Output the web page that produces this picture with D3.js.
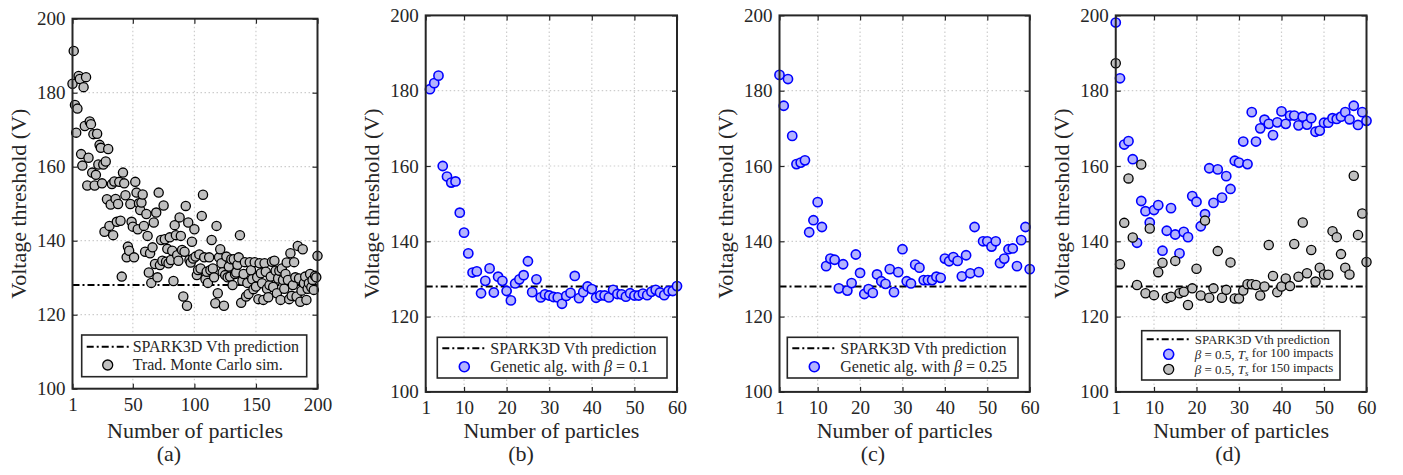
<!DOCTYPE html>
<html>
<head>
<meta charset="utf-8">
<script src="https://cdn.jsdelivr.net/npm/d3@7"></script>
<style>
  body { margin: 0; background: #fff; }
  svg text { font-family: "Liberation Serif", "DejaVu Serif", serif; fill: #262626; }
</style>
</head>
<body>
<svg id="fig" width="1403" height="475"></svg>
<script>
// values
const sparkVth = 128;
const yTicks = [100, 120, 140, 160, 180, 200];
const xTicksA = [1, 50, 100, 150, 200];
const xTicksGA = [1, 10, 20, 30, 40, 50, 60];

// (a) traditional Monte Carlo, particles 1..200
const monteCarlo = [
  182.4, 191.3, 176.7, 169.2, 175.7, 184.5, 183.7, 163.4, 160.3, 181.5,
  171.0, 184.2, 154.9, 162.4, 172.2, 171.5, 158.4, 168.8, 154.9, 157.8,
  168.9, 160.6, 165.9, 165.1, 155.5, 160.6, 142.4, 161.4, 151.2, 164.8,
  144.0, 149.8, 155.3, 141.5, 156.0, 151.3, 145.1, 149.9, 155.9, 145.4,
  130.3, 158.4, 155.5, 152.3, 135.5, 138.4, 137.3, 149.9, 145.1, 143.8,
  135.5, 155.9, 153.0, 143.1, 150.1, 148.3, 150.3, 152.5, 144.0, 137.0,
  147.2, 141.3, 131.4, 136.6, 128.6, 138.2, 144.9, 133.7, 147.6, 130.1,
  153.0, 133.4, 140.2, 134.6, 149.5, 140.4, 134.3, 137.8, 133.9, 140.9,
  134.8, 137.3, 129.1, 144.2, 141.5, 136.1, 134.6, 146.3, 141.3, 137.5,
  124.9, 137.0, 149.4, 122.4, 144.9, 134.8, 134.1, 139.7, 135.2, 143.1,
  135.7, 130.7, 132.1, 136.3, 132.5, 146.7, 152.4, 135.5, 129.6, 131.6,
  128.6, 135.5, 132.1, 140.2, 132.5, 130.1, 123.1, 144.0, 125.8, 135.5,
  137.7, 133.9, 131.5, 122.4, 130.7, 135.7, 130.1, 133.0, 130.3, 135.0,
  128.0, 135.0, 131.0, 131.4, 133.5, 135.5, 141.5, 123.2, 129.2, 131.0,
  134.2, 124.9, 128.6, 125.6, 134.2, 132.0, 129.6, 126.9, 134.2, 127.6,
  130.1, 124.2, 133.9, 131.2, 128.5, 124.0, 133.9, 131.6, 127.0, 124.7,
  128.0, 130.3, 134.3, 127.5, 134.6, 131.9, 125.8, 129.8, 131.9, 124.0,
  132.5, 129.4, 127.0, 131.0, 134.1, 129.4, 124.2, 136.6, 125.1, 128.0,
  134.2, 130.1, 124.9, 138.6, 129.8, 123.5, 126.5, 137.7, 128.5, 130.3,
  124.0, 127.0, 128.5, 131.0, 127.4, 129.4, 126.7, 130.5, 130.1, 135.9
];

// (b) genetic algorithm beta = 0.1, particles 2..60
const gaBeta01Start = 2;
const gaBeta01 = [
  180.4, 182.0, 184.0, 160.0, 157.2, 155.6, 155.9, 147.6, 142.3, 136.8,
  131.7, 132.0, 126.2, 129.5, 132.8, 126.4, 130.6, 129.5, 126.8, 124.3,
  128.8, 129.9, 131.0, 134.7, 126.5, 129.9, 125.1, 125.9, 125.6, 125.2,
  125.1, 123.4, 125.5, 126.3, 130.8, 124.9, 126.5, 128.0, 127.3, 125.0,
  125.6, 125.6, 125.1, 127.1, 126.0, 125.9, 125.3, 126.2, 125.6, 125.6,
  126.1, 125.7, 126.6, 127.1, 126.4, 125.7, 126.8, 126.8, 128.1
];

// (c) genetic algorithm beta = 0.25, particles 1..60
const gaBeta025 = [
  184.2, 176.0, 183.1, 168.0, 160.5, 160.9, 161.5, 142.4, 145.6, 150.4,
  143.8, 133.4, 135.4, 135.1, 127.5, 133.9, 126.9, 128.9, 136.5, 131.6,
  126.0, 127.3, 126.3, 131.2, 129.4, 128.7, 132.6, 126.5, 131.8, 137.9,
  129.4, 128.8, 133.8, 133.0, 129.7, 129.7, 129.7, 130.6, 130.3, 135.4,
  134.7, 135.8, 134.8, 130.7, 136.3, 131.5, 143.8, 131.8, 140.0, 140.0,
  138.6, 140.0, 134.2, 135.4, 137.9, 138.1, 133.4, 140.3, 143.8, 132.6
];

// (d) beta = 0.5, Ts for 100 and 150 impacts, particles 1..60
const ts100 = [
  198.1, 183.3, 165.7, 166.6, 161.8, 139.6, 150.7, 148.0, 145.0, 148.3,
  149.6, 137.5, 142.8, 148.8, 141.8, 136.8, 142.5, 141.1, 152.0, 150.5,
  144.0, 147.2, 159.4, 150.2, 159.1, 151.6, 157.3, 153.9, 161.4, 160.9,
  166.5, 160.5, 174.3, 166.5, 170.0, 172.3, 171.2, 168.2, 171.6, 174.5,
  171.2, 173.4, 173.4, 170.8, 173.1, 171.0, 172.7, 169.1, 169.4, 171.5,
  171.5, 172.7, 172.5, 173.1, 174.3, 172.4, 176.0, 170.9, 174.3, 172.0
];
const ts150 = [
  187.3, 133.9, 144.9, 156.7, 141.0, 128.4, 160.4, 126.2, 143.4, 125.7,
  131.8, 134.3, 124.9, 125.3, 134.8, 126.2, 126.6, 123.1, 127.5, 132.7,
  125.6, 145.5, 125.0, 127.5, 137.4, 125.0, 127.1, 134.4, 124.8, 124.8,
  126.9, 128.6, 128.6, 128.4, 125.6, 128.0, 139.0, 130.8, 126.5, 128.0,
  130.1, 128.1, 139.3, 130.6, 145.0, 131.5, 137.7, 129.3, 133.0, 131.2,
  131.1, 142.7, 141.1, 136.6, 133.0, 131.2, 157.4, 141.7, 147.4, 134.5
];

const gray = { fill: "#bfbfbf", stroke: "#000000" };
const blue = { fill: "#b3b3ff", stroke: "#0000ff" };
const serif = '"Liberation Serif", "DejaVu Serif", serif';

const svg = d3.select("#fig");

function drawPanel(p) {
  const x = d3.scaleLinear().domain(p.xDomain).range([p.left, p.right]);
  const y = d3.scaleLinear().domain([100, 200]).range([p.bottom, p.top]);
  const g = svg.append("g");

  // dotted grid
  g.selectAll("line.gx").data(p.xTicks.slice(1, -1)).join("line")
    .attr("x1", d => x(d)).attr("x2", d => x(d))
    .attr("y1", p.top).attr("y2", p.bottom)
    .attr("stroke", "#cdcdcd").attr("stroke-width", 1.2).attr("stroke-dasharray", "1.5,2.5");
  g.selectAll("line.gy").data(yTicks.slice(1, -1)).join("line")
    .attr("y1", d => y(d)).attr("y2", d => y(d))
    .attr("x1", p.left).attr("x2", p.right)
    .attr("stroke", "#cdcdcd").attr("stroke-width", 1.2).attr("stroke-dasharray", "1.5,2.5");

  // axes with inward ticks on all four sides
  const ax = g.append("g").attr("transform", `translate(0,${p.bottom})`)
    .call(d3.axisBottom(x).tickValues(p.xTicks).tickSize(-5).tickPadding(9).tickFormat(d3.format("d")));
  const ay = g.append("g").attr("transform", `translate(${p.left},0)`)
    .call(d3.axisLeft(y).tickValues(yTicks).tickSize(-5).tickPadding(7));
  g.append("g").attr("transform", `translate(0,${p.top})`)
    .call(d3.axisTop(x).tickValues(p.xTicks).tickSize(-5).tickFormat(""));
  g.append("g").attr("transform", `translate(${p.right},0)`)
    .call(d3.axisRight(y).tickValues(yTicks).tickSize(-5).tickFormat(""));
  g.selectAll(".domain").remove();
  g.selectAll("g").attr("font-family", serif);
  g.selectAll(".tick line").attr("stroke", "#262626").attr("stroke-width", 1.2);
  [ax, ay].forEach(a => a.selectAll("text").attr("font-size", 19)
    .style("font-family", serif).attr("fill", "#262626"));

  // SPARK3D prediction
  g.append("line")
    .attr("x1", p.left).attr("x2", p.right)
    .attr("y1", y(sparkVth)).attr("y2", y(sparkVth))
    .attr("stroke", "#000").attr("stroke-width", 2).attr("stroke-dasharray", "7,3,2,3");

  p.series.forEach(s => {
    g.selectAll(null).data(s.values).join("circle")
      .attr("cx", (d, i) => x(s.start + i))
      .attr("cy", d => y(d))
      .attr("r", 4.6)
      .attr("fill", s.style.fill)
      .attr("stroke", s.style.stroke)
      .attr("stroke-width", s.style === blue ? 1.6 : 1.3);
  });

  // frame
  g.append("rect")
    .attr("x", p.left).attr("y", p.top)
    .attr("width", p.right - p.left).attr("height", p.bottom - p.top)
    .attr("fill", "none").attr("stroke", "#262626").attr("stroke-width", 2);

  // legend
  const L = p.legend;
  g.append("rect").attr("x", L.x).attr("y", L.y).attr("width", L.w).attr("height", L.h)
    .attr("fill", "#fff").attr("stroke", "#262626").attr("stroke-width", 1.6);
  g.append("line").attr("x1", L.x + 5).attr("x2", L.x + 5 + L.sample)
    .attr("y1", L.rows[0]).attr("y2", L.rows[0])
    .attr("stroke", "#000").attr("stroke-width", 2).attr("stroke-dasharray", "7,3,2,3");
  const textX = L.x + 5 + L.sample + 4;
  g.append("text").attr("x", textX).attr("y", L.rows[0]).attr("dy", "0.33em")
    .attr("font-size", L.font).style("font-family", serif).text("SPARK3D Vth prediction");
  L.entries.forEach((e, k) => {
    const ry = L.rows[k + 1];
    g.append("circle").attr("cx", L.x + 5 + L.sample / 2).attr("cy", ry).attr("r", L.r)
      .attr("fill", e.style.fill).attr("stroke", e.style.stroke)
      .attr("stroke-width", e.style === blue ? 1.6 : 1.3);
    const t = g.append("text").attr("x", textX).attr("y", ry).attr("dy", "0.33em")
      .attr("font-size", L.font).style("font-family", serif);
    e.parts.forEach(part => {
      const ts = t.append("tspan").text(part.t);
      if (part.i) ts.attr("font-style", "italic");
      if (part.sub) ts.attr("font-size", L.font * 0.7).attr("dy", "0.3em");
      if (part.up) ts.attr("dy", "-0.3em");
    });
  });

  // labels
  g.append("text")
    .attr("transform", `translate(${p.left - 54},${(p.top + p.bottom) / 2}) rotate(-90)`)
    .attr("text-anchor", "middle").attr("dy", "0.35em").attr("font-size", 22)
    .style("font-family", serif).text("Voltage threshold (V)");
  g.append("text").attr("x", (p.left + p.right) / 2).attr("y", 438)
    .attr("text-anchor", "middle").attr("font-size", 22).style("font-family", serif)
    .text("Number of particles");
  g.append("text").attr("x", p.tagX).attr("y", 461)
    .attr("text-anchor", "middle").attr("font-size", 22).style("font-family", serif).text(p.tag);
}

const betaParts = b => [{ t: "Genetic alg.  with " }, { t: "β", i: true }, { t: " = " + b }];
const tsParts = n => [{ t: "β", i: true }, { t: " = 0.5, " }, { t: "T", i: true },
  { t: "s", i: true, sub: true }, { t: " for " + n + " impacts", up: true }];

drawPanel({
  left: 72.5, right: 317.5, top: 18.7, bottom: 388.7, xDomain: [1, 200], xTicks: xTicksA,
  series: [{ values: monteCarlo, start: 1, style: gray }],
  legend: { x: 81.7, y: 335, w: 225, h: 41.7, sample: 42, rows: [346.7, 365], font: 16, r: 5,
    entries: [{ style: gray, parts: [{ t: "Trad. Monte Carlo sim." }] }] },
  tag: "(a)", tagX: 169
});
drawPanel({
  left: 425.7, right: 677, top: 15.4, bottom: 391.9, xDomain: [1, 60], xTicks: xTicksGA,
  series: [{ values: gaBeta01, start: gaBeta01Start, style: blue }],
  legend: { x: 437.3, y: 337.3, w: 229.7, h: 40.7, sample: 44, rows: [348.3, 366.7], font: 16, r: 5,
    entries: [{ style: blue, parts: betaParts("0.1") }] },
  tag: "(b)", tagX: 521
});
drawPanel({
  left: 779.5, right: 1029.7, top: 15.4, bottom: 391.9, xDomain: [1, 60], xTicks: xTicksGA,
  series: [{ values: gaBeta025, start: 1, style: blue }],
  legend: { x: 787.3, y: 337.3, w: 230.7, h: 40.7, sample: 44, rows: [348.3, 366.7], font: 16, r: 5,
    entries: [{ style: blue, parts: betaParts("0.25") }] },
  tag: "(c)", tagX: 873
});
drawPanel({
  left: 1115.75, right: 1366.5, top: 15.4, bottom: 391.9, xDomain: [1, 60], xTicks: xTicksGA,
  series: [{ values: ts100, start: 1, style: blue }, { values: ts150, start: 1, style: gray }],
  legend: { x: 1141.7, y: 330.7, w: 198.3, h: 49.3, sample: 44, rows: [339.3, 354.3, 369.3], font: 13, r: 5,
    entries: [{ style: blue, parts: tsParts(100) }, { style: gray, parts: tsParts(150) }] },
  tag: "(d)", tagX: 1228
});
</script>
</body>
</html>
